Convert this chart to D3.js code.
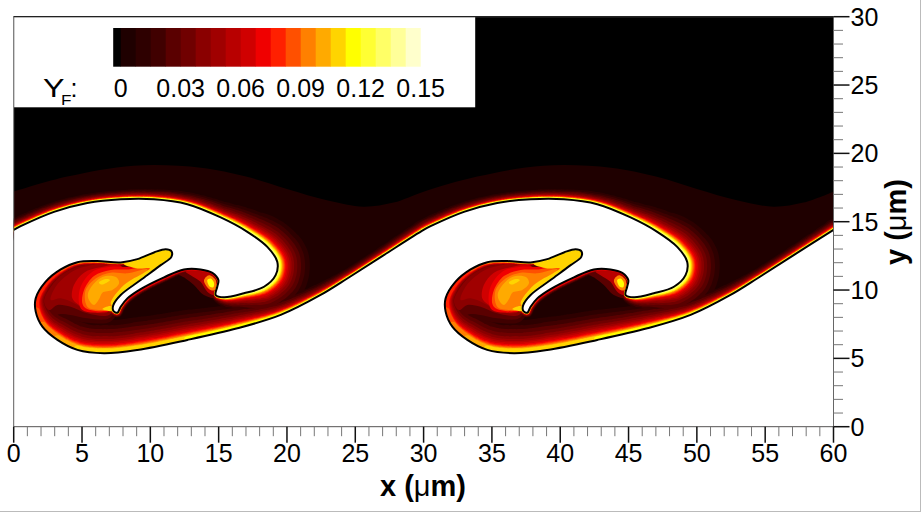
<!DOCTYPE html>
<html><head><meta charset="utf-8">
<style>html,body{margin:0;padding:0;background:#fff}svg{display:block}text{font-family:"Liberation Sans",Arial,sans-serif;fill:#000}</style>
<script src="https://cdn.jsdelivr.net/npm/d3@7/dist/d3.min.js"></script>
</head><body><svg id="c" width="921" height="512"></svg>
<script>
// ---------- data (x, y in micrometres; values are mass fraction Y_F) ----------
const xTicks = [0,5,10,15,20,25,30,35,40,45,50,55,60];
const yTicks = [0,5,10,15,20,25,30];
const legendTicks = [0,0.03,0.06,0.09,0.12,0.15];
const levelStep = 0.0075;
const bandColors = ["#000000","#1f0000","#2e0000","#400000","#5a0000","#700000","#8a0000","#a00000","#b80000","#d00000","#f00000","#ff2000","#ff5000","#ff8000","#ffaa00","#ffd400","#ffff00","#ffff33","#ffff66","#ffff99","#ffffcc"];
const periodOffsets = [0,30];
// flame interface over one period: [x, y, thickness of the glow next to it, hottest band along it]
const flameFront = [[0,14.4,.7,17],[.51,14.67,.7,17],[2.95,15.72,.65,17],[5.39,16.37,.6,17],[7.83,16.64,.6,17],[10.27,16.64,.65,17],[12.71,16.28,.8,17],[15.15,15.31,1.1,18],[17.1,14.26,1.6,18],[18.56,13.16,2.1,18],[19.29,12.07,2.3,18],[19.17,11.09,2.3,18],[18.32,10.24,2.0,18],[16.85,9.76,1.3,18],[15.39,9.47,.6,18],[14.78,9.64,.2,17],[14.9,10.24,.2,16],[14.98,10.73,.2,13],[14.54,11.26,.2,11],[13.68,11.51,.25,10],[12.46,11.51,.25,10],[11,10.93,.3,10],[9.29,10.07,.3,10],[8.32,9.39,.3,11],[7.83,8.78,.3,14],[7.59,8.34,.3,16],[7.29,8.49,.3,18],[7.29,8.9,.3,18],[7.83,9.64,.3,18],[9.29,10.73,.25,18],[10.76,11.82,.2,18],[11.54,12.43,.2,18],[11.54,12.85,.2,18],[11.12,12.99,.2,18],[10.27,12.75,.2,17],[9.05,12.26,.25,16],[7.83,12.02,.3,15],[6.12,12.12,.4,14],[4.66,12.04,.5,13],[3.44,11.51,.6,12],[2.34,10.61,.8,11],[1.61,9.39,1.1,11],[1.61,8.42,1.4,12],[2.1,7.32,1.8,13],[3.2,6.35,2.2,14],[4.66,5.62,2.3,15],[6.61,5.38,2.3,15],[9.05,5.62,2.3,15],[12.71,6.35,2.1,16],[16.37,7.2,1.7,16],[19.54,8.18,1.1,17],[22.46,9.64,.75,17],[24.5,10.9,.6,17],[27,12.5,.6,17],[30,14.4,.7,17]];
// share of the glow thickness reached by each colour band (index = band number)
const glowProfile = [0,0,1,.85,.72,.6,.5,.42,.36,.31,.26,.22,.19,.16,.13,.11,.09,.07,.05,.035,.02];
// outermost contour, level 0.0075
const outerEdge = [[0,17.2],[3.93,18.3],[8.78,19.1],[13.7,18.95],[17,18.3],[20,17.4],[23,16.55],[25.6,16.1],[27.8,16.4],[30,17.2]];
// hot core contours in the vortex
const lobePale = {level:.0225,pts:[[1.75,9],[2.2,10.3],[3.3,11.5],[4.9,12],[7.83,12],[7.8,9],[7.1,7.7],[5.39,7.6],[4,7.8],[3.2,7.6],[2.7,7.1],[2,7.6]]};
const lobeDim = {level:.03,pts:[[1.85,9.03],[2.34,10.24],[3.44,11.34],[4.9,11.9],[7.83,11.9],[7.7,9.03],[6.98,7.93],[5.39,7.93],[4.17,8.18],[3.2,8.18],[2.95,7.57],[2.22,7.93]]};
const lobeDeep = {level:.045,pts:[[2.22,9.15],[2.71,10.24],[3.68,11.22],[4.9,11.75],[7.83,11.83],[7.46,9.15],[6.98,8.18],[5.39,8.3],[4.17,8.78],[3.2,8.91],[2.59,8.54]]};
const lobeRed = {level:.0525,pts:[[2.71,9.27],[3.07,10.24],[3.93,11.1],[5.02,11.66],[7.83,11.83],[7.46,9.27],[6.85,8.35],[5.39,8.49],[4.41,9.03],[3.44,9.39]]};
const lobeWarm = {level:.0675,pts:[[4.29,9.39],[4.41,10.37],[5.15,11.27],[6.37,11.66],[7.83,11.75],[7.46,9.15],[6.9,8.42],[5.63,8.59],[4.78,8.91]]};
const lobeBright = {level:.075,pts:[[4.78,9.03],[4.9,10.24],[5.76,11.34],[7.1,11.7],[8.8,11.75],[11.12,12.68],[11.24,12.31],[9.05,10.73],[7.71,9.51],[7.1,8.54],[5.88,8.35],[5.02,8.54]]};
const lobeScarlet = {level:.09,pts:[[5.02,9.03],[5.15,10],[5.88,11.02],[7.1,11.46],[8.8,11.58],[11.12,12.68],[11.24,12.31],[9.05,10.78],[7.71,9.56],[7.1,8.59],[6,8.47],[5.27,8.66]]};
const lobeOrange = {level:.0975,pts:[[5.27,9.03],[5.27,10],[6,10.85],[7.1,11.27],[8.32,11.22],[9.78,11.51],[9.05,10.73],[7.83,9.64],[7.22,8.59],[6.24,8.54],[5.51,8.66]]};
const lobeAmber = {level:.105,pts:[[5.51,9.27],[5.44,9.76],[6,10.61],[6.73,11.02],[7.54,10.92],[7.71,10.49],[7.22,10],[6.49,9.81],[6.24,9.32],[5.88,8.91]]};
const lobeSpot = {level:.1125,pts:[[6.24,10.54],[6.73,10.8],[7.05,10.73],[6.8,10.54],[6.41,10.41]]};
const tailGold = {level:.1125,pts:[[8.07,11.9],[9.54,12.43],[11.37,12.97],[11.54,12.31],[9.54,10.92],[8.19,10],[7.34,8.78],[7.1,9.03],[8.07,10.37],[9.54,11.27],[9.97,11.58],[9.05,11.58]]};
const tipGold = {level:.1125,pts:[[6.49,8.61],[7.1,8.83],[7.29,8.49],[6.95,8.47]]};
const rollDim = {level:.03,pts:[[11.97,11.22],[13.68,11.51],[15.02,10.73],[14.78,9.47],[13.92,9.64],[13.19,10.37],[12.58,10.85]]};
const rollRed = {level:.06,pts:[[12.59,11.34],[13.68,11.46],[14.66,10.97],[14.9,10.37],[14.66,9.64],[14.17,9.88],[13.68,10.61],[12.95,11.09]]};
const rollOrange = {level:.0975,pts:[[13.93,10.73],[14.29,11.09],[14.78,10.73],[14.71,10],[14.41,10],[14.05,10.37]]};
const rollYellow = {level:.12,pts:[[14.17,10.73],[14.41,10.85],[14.66,10.53],[14.61,10.2],[14.36,10.24]]};
const hotContours = [lobePale,lobeDim,lobeDeep,lobeRed,lobeWarm,lobeBright,lobeScarlet,lobeOrange,lobeAmber,lobeSpot,tailGold,tipGold,rollDim,rollRed,rollOrange,rollYellow];

// ---------- scales ----------
const svg = d3.select("#c");
const x = d3.scaleLinear().domain([0,60]).range([13.7,833.5]);
const y = d3.scaleLinear().domain([0,30]).range([426.7,16.7]);
const pxPerUm = x(1)-x(0);
const bandOf = d3.scaleThreshold().domain(bandColors.slice(1).map((_,i)=>(i+.5)*levelStep)).range(d3.range(bandColors.length));
const color = v => bandColors[bandOf(v)];

svg.append("rect").attr("width",921).attr("height",512).attr("fill","#fff");
svg.append("defs").append("clipPath").attr("id","plot").append("rect")
  .attr("x",x(0)).attr("y",y(30)).attr("width",x(60)-x(0)).attr("height",y(0)-y(30));
const plot = svg.append("g").attr("clip-path","url(#plot)");
plot.append("rect").attr("x",x(0)).attr("y",y(30)).attr("width",x(60)-x(0)).attr("height",y(0)-y(30)).attr("fill",bandColors[0]);

// chain the periods into one curve
const chain = pts => periodOffsets.flatMap((o,k)=>pts.slice(k?1:0).map(p=>[p[0]+o,...p.slice(1)]));
const frontChain = chain(flameFront);
const lineGen = d3.line().x(d=>x(d[0])).y(d=>y(d[1])).curve(d3.curveCatmullRom);
const areaDown = pts => lineGen(pts)+`L${x(60)},${y(0)}L${x(0)},${y(0)}Z`;
const closedGen = d3.line().x(d=>x(d[0])).y(d=>y(d[1])).curve(d3.curveCatmullRomClosed);

// sample the flame curve using the library's own curve generator
const samples = [];
(function(){
  let cur=null, seg=0;
  const ctx={moveTo(a,b){cur=[a,b];},lineTo(a,b){cur=[a,b];seg++;},closePath(){},
    bezierCurveTo(a,b,c,d,e,f){
      const p=frontChain[seg],q=frontChain[Math.min(seg+1,frontChain.length-1)];
      const n=Math.max(2,Math.ceil(Math.hypot(e-cur[0],f-cur[1])/.7));
      for(let i=0;i<n;i++){const t=i/n,u=1-t;
        samples.push({x:u*u*u*cur[0]+3*u*u*t*a+3*u*t*t*c+t*t*t*e,
                      y:u*u*u*cur[1]+3*u*u*t*b+3*u*t*t*d+t*t*t*f,
                      g:p[2]*u+q[2]*t, peak:p[3]*u+q[3]*t});}
      cur=[e,f];seg++;}};
  d3.line().x(d=>x(d[0])).y(d=>y(d[1])).curve(d3.curveCatmullRom).context(ctx)(frontChain);
})();
const disc=(a,b,r)=>`M${(a-r).toFixed(1)},${b.toFixed(1)}a${r.toFixed(2)},${r.toFixed(2)} 0 1 0 ${(2*r).toFixed(2)},0a${r.toFixed(2)},${r.toFixed(2)} 0 1 0 ${(-2*r).toFixed(2)},0Z`;

// paint the field from the coolest band to the hottest
plot.append("path").attr("d",areaDown(chain(outerEdge))).attr("fill",bandColors[1]);
bandColors.forEach((c,k)=>{
  if(k<2) return;
  const d=samples.filter(s=>s.peak>=k).map(s=>disc(s.x,s.y,s.g*glowProfile[k]*pxPerUm+.7)).join("");
  if(d) plot.append("path").attr("d",d).attr("fill",c);
  hotContours.filter(h=>bandOf(h.level)===k).forEach(h=>{
    periodOffsets.forEach(o=>plot.append("path")
      .attr("d",closedGen(h.pts.map(p=>[p[0]+o,p[1]]))).attr("fill",color(h.level)));
  });
});
// oxidiser side, then the flame line
plot.append("path").attr("d",areaDown(frontChain)).attr("fill","#fff");
plot.append("path").attr("d",lineGen(frontChain)).attr("fill","none").attr("stroke","#000").attr("stroke-width",2).attr("stroke-linejoin","round");

// ---------- frame and axes ----------
svg.append("rect").attr("x",x(0)).attr("y",y(30)).attr("width",x(60)-x(0)).attr("height",y(0)-y(30)).attr("fill","none").attr("stroke","#666").attr("stroke-width",1);
svg.append("line").attr("x1",x(0)).attr("x2",x(60)).attr("y1",y(30)).attr("y2",y(30)).attr("stroke","#222").attr("stroke-width",1.2);

const xMinor = d3.range(0,61).filter(v=>v%5);
const yMinor = d3.range(0,31).filter(v=>v%5);
const ax = svg.append("g");
ax.selectAll(".xm").data(xMinor).join("line").attr("x1",x).attr("x2",x).attr("y1",y(0)).attr("y2",y(0)+9.5).attr("stroke","#777").attr("stroke-width",1);
ax.selectAll(".xM").data(xTicks).join("line").attr("x1",x).attr("x2",x).attr("y1",y(0)).attr("y2",y(0)+16).attr("stroke","#111").attr("stroke-width",1.5);
ax.selectAll(".xl").data(xTicks).join("text").attr("x",x).attr("y",462).attr("text-anchor","middle").attr("font-size",25).text(d=>d);
ax.selectAll(".ym").data(yMinor).join("line").attr("y1",y).attr("y2",y).attr("x1",x(60)).attr("x2",x(60)+9.5).attr("stroke","#777").attr("stroke-width",1);
ax.selectAll(".yM").data(yTicks).join("line").attr("y1",y).attr("y2",y).attr("x1",x(60)).attr("x2",x(60)+16).attr("stroke","#111").attr("stroke-width",1.5);
ax.selectAll(".yl").data(yTicks).join("text").attr("x",850.5).attr("y",d=>y(d)+9).attr("font-size",25).text(d=>d);

const xt = svg.append("text").attr("x",423).attr("y",496).attr("text-anchor","middle").attr("font-size",29).attr("font-weight","bold");
xt.append("tspan").text("x (");xt.append("tspan").attr("font-weight","normal").text("μ");xt.append("tspan").text("m)");
const yt = svg.append("text").attr("transform","translate(906,222) rotate(-90)").attr("text-anchor","middle").attr("font-size",29).attr("font-weight","bold");
yt.append("tspan").text("y (");yt.append("tspan").attr("font-weight","normal").text("μ");yt.append("tspan").text("m)");

// ---------- legend ----------
const lg = d3.scaleLinear().domain([0,.15]).range([120.7,420.7]);
svg.append("rect").attr("x",x(0)+.5).attr("y",y(30)+.6).attr("width",461).attr("height",90).attr("fill","#fff");
bandColors.forEach((c,i)=>{
  const a = i? lg((i-1)*levelStep) : lg(-levelStep/2), b = lg(i*levelStep);
  svg.append("rect").attr("x",a).attr("y",28).attr("width",b-a+(i<20?.3:0)).attr("height",38.7).attr("fill",c);
});
svg.selectAll(".lt").data(legendTicks).join("text").attr("x",lg).attr("y",97).attr("text-anchor","middle").attr("font-size",25).text(d=>d);
svg.append("text").attr("x",43).attr("y",97).attr("font-size",25).attr("textLength",21.5).attr("lengthAdjust","spacingAndGlyphs").text("Y");
svg.append("text").attr("x",61).attr("y",105).attr("font-size",14).attr("textLength",10.5).attr("lengthAdjust","spacingAndGlyphs").text("F");
svg.append("text").attr("x",70.5).attr("y",97).attr("font-size",25).text(":");

// image edge
svg.append("line").attr("x1",0).attr("x2",921).attr("y1",511.5).attr("y2",511.5).attr("stroke","#bbb");
svg.append("line").attr("x1",920.5).attr("x2",920.5).attr("y1",0).attr("y2",512).attr("stroke","#bbb");
</script></body></html>
